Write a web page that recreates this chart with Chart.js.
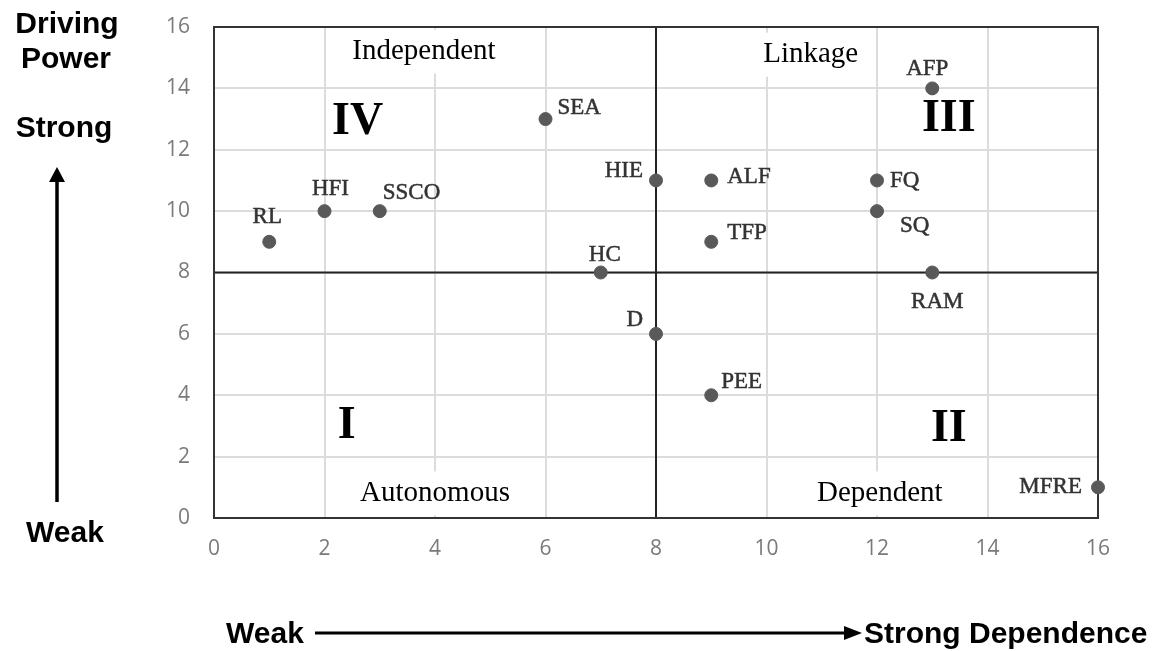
<!DOCTYPE html>
<html>
<head>
<meta charset="utf-8">
<script src="https://cdn.jsdelivr.net/npm/chart.js@4/dist/chart.umd.min.js"></script>
<style>
  html, body { margin: 0; padding: 0; background: #fff; }
  #wrap { width: 1162px; height: 651px; position: relative; }
</style>
</head>
<body>
<div id="wrap"><canvas id="micmac" width="1162" height="651"></canvas></div>
<script>
// factor codes and their (dependence, driving power) scores
const codes = ['RL', 'HFI', 'SSCO', 'SEA', 'HC', 'HIE', 'D', 'ALF', 'TFP', 'PEE', 'AFP', 'FQ', 'SQ', 'RAM', 'MFRE'];
const dependence = [1, 2, 3, 6, 7, 8, 8, 9, 9, 9, 13, 12, 12, 13, 16];
const drivingPower = [9, 10, 10, 13, 8, 11, 6, 11, 9, 4, 14, 11, 10, 8, 1];
const axisTicks = [0, 2, 4, 6, 8, 10, 12, 14, 16];
const quadrantNames = ['Independent', 'Linkage', 'Autonomous', 'Dependent'];
const quadrantNumerals = ['IV', 'III', 'I', 'II'];
const splitValue = 8;

// where each point's label sits relative to its dot (pixels)
const labelPlace = {
  RL: ['center', -2, -25], HFI: ['center', 6, -22], SSCO: ['left', 3, -18],
  SEA: ['left', 12, -11], HC: ['center', 4, -18], HIE: ['right', -13, -9],
  D: ['right', -13, -14], ALF: ['left', 16, -3], TFP: ['left', 16, -9],
  PEE: ['left', 10, -13], AFP: ['center', -5, -19], FQ: ['left', 13, 1],
  SQ: ['left', 23, 15], RAM: ['center', 5, 29], MFRE: ['right', -16, 0]
};
// quadrant captions, in axis units
const namePos = [[3.8, 15.2], [10.8, 15.1], [4.0, 0.8], [12.05, 0.8]];
const numeralPos = [[2.6, 12.9], [13.3, 13.0], [2.4, 3.0], [13.3, 2.9]];

const points = codes.map((c, i) => ({ x: dependence[i], y: drivingPower[i], code: c }));

const quadrantPlugin = {
  id: 'quadrants',
  beforeDatasetsDraw(chart) {
    const { ctx, chartArea: a, scales: { x, y } } = chart;
    ctx.save();
    // white patches behind captions
    ctx.font = '29px "Liberation Serif", serif';
    quadrantNames.forEach((name, i) => {
      const px = x.getPixelForValue(namePos[i][0]);
      const py = y.getPixelForValue(namePos[i][1]);
      const w = ctx.measureText(name).width;
      ctx.fillStyle = '#fff';
      ctx.fillRect(px - w / 2 - 8, py - 22, w + 16, 44);
    });
    // quadrant split lines
    ctx.strokeStyle = '#222';
    ctx.lineWidth = 2;
    const sx = x.getPixelForValue(splitValue);
    const sy = y.getPixelForValue(splitValue);
    ctx.beginPath();
    ctx.moveTo(sx, a.top); ctx.lineTo(sx, a.bottom);
    ctx.moveTo(a.left, sy); ctx.lineTo(a.right, sy);
    ctx.stroke();
    ctx.strokeStyle = '#333';
    ctx.strokeRect(a.left, a.top, a.right - a.left, a.bottom - a.top);
    // captions
    ctx.fillStyle = '#000';
    ctx.textAlign = 'center';
    ctx.textBaseline = 'middle';
    quadrantNames.forEach((name, i) => {
      ctx.fillText(name, x.getPixelForValue(namePos[i][0]), y.getPixelForValue(namePos[i][1]));
    });
    ctx.font = 'bold 46px "Liberation Serif", serif';
    quadrantNumerals.forEach((n, i) => {
      ctx.fillText(n, x.getPixelForValue(numeralPos[i][0]), y.getPixelForValue(numeralPos[i][1]));
    });
    ctx.restore();
  },
  afterDatasetsDraw(chart) {
    const { ctx } = chart;
    const meta = chart.getDatasetMeta(0);
    ctx.save();
    ctx.font = '23px "Liberation Serif", serif';
    ctx.fillStyle = '#333';
    ctx.strokeStyle = '#333';
    ctx.lineWidth = 0.5;
    ctx.textBaseline = 'middle';
    meta.data.forEach((pt, i) => {
      const p = labelPlace[codes[i]];
      ctx.textAlign = p[0];
      ctx.fillText(codes[i], pt.x + p[1], pt.y + p[2]);
      ctx.strokeText(codes[i], pt.x + p[1], pt.y + p[2]);
    });
    ctx.restore();
  },
  afterDraw(chart) {
    const { ctx } = chart;
    ctx.save();
    ctx.fillStyle = '#000';
    ctx.strokeStyle = '#000';
    ctx.font = 'bold 30px "Liberation Sans", Arial, sans-serif';
    ctx.textBaseline = 'alphabetic';
    ctx.textAlign = 'center';
    ctx.fillText('Driving', 67, 33);
    ctx.fillText('Power', 66, 68);
    ctx.fillText('Strong', 64, 137);
    ctx.fillText('Weak', 65, 542);
    // vertical arrow
    ctx.lineWidth = 3.5;
    ctx.beginPath();
    ctx.moveTo(57, 502); ctx.lineTo(57, 180);
    ctx.stroke();
    ctx.beginPath();
    ctx.moveTo(57, 167); ctx.lineTo(49, 182); ctx.lineTo(65, 182);
    ctx.closePath(); ctx.fill();
    // horizontal arrow
    ctx.textAlign = 'left';
    ctx.fillText('Weak', 226, 643);
    ctx.lineWidth = 3;
    ctx.beginPath();
    ctx.moveTo(315, 633); ctx.lineTo(846, 633);
    ctx.stroke();
    ctx.beginPath();
    ctx.moveTo(862, 633); ctx.lineTo(844, 626); ctx.lineTo(844, 640);
    ctx.closePath(); ctx.fill();
    ctx.fillText('Strong Dependence', 864, 643);
    ctx.restore();
  }
};

const axisCommon = {
  type: 'linear',
  min: axisTicks[0],
  max: axisTicks[axisTicks.length - 1],
  afterBuildTicks: scale => { scale.ticks = axisTicks.map(v => ({ value: v })); },
  grid: { color: '#dcdcdc', lineWidth: 2, drawTicks: false },
  border: { display: false },
  ticks: { color: '#7a7a7a', font: { family: '"Open Sans", sans-serif', size: 21 } }
};

new Chart(document.getElementById('micmac'), {
  type: 'scatter',
  data: {
    datasets: [{
      data: points,
      backgroundColor: '#595959',
      borderColor: '#595959',
      pointRadius: 6.5,
      pointHoverRadius: 6.5,
      clip: false
    }]
  },
  options: {
    responsive: false,
    animation: false,
    events: [],
    layout: { padding: { left: 140, right: 64, top: 27, bottom: 90 } },
    plugins: { legend: { display: false }, tooltip: { enabled: false } },
    scales: {
      x: Object.assign({}, axisCommon, {
        ticks: Object.assign({}, axisCommon.ticks, { padding: 18, maxRotation: 0 }),
        afterFit: s => {
          s.height = 651 - 518 - 90;
          s.paddingLeft = 0; s.paddingRight = 0;
        }
      }),
      y: Object.assign({}, axisCommon, {
        ticks: Object.assign({}, axisCommon.ticks, { padding: 24 }),
        afterFit: s => {
          s.width = 214 - 140;
          s.paddingTop = 0; s.paddingBottom = 0;
        }
      })
    }
  },
  plugins: [quadrantPlugin]
});
</script>
</body>
</html>
